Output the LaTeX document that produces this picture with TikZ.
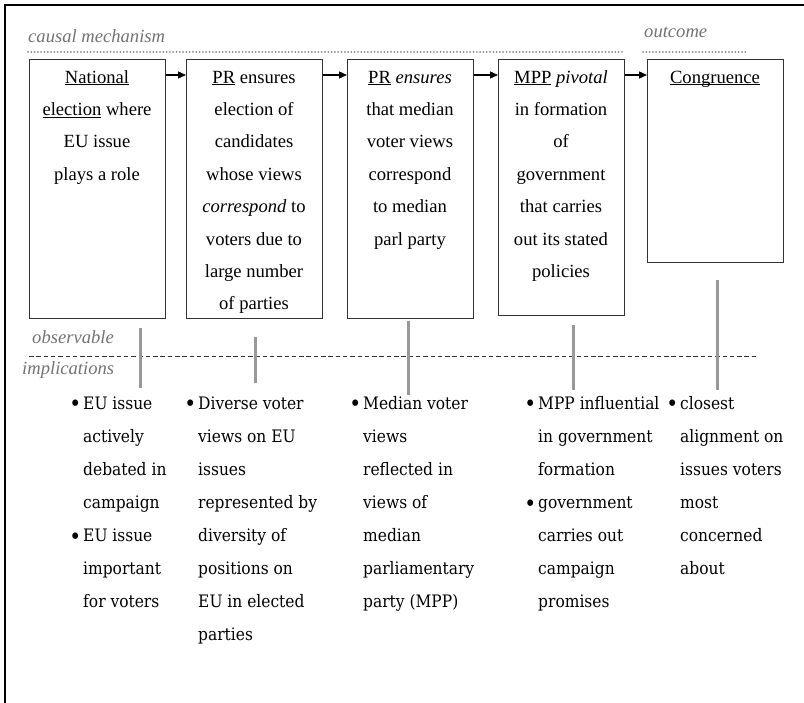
\documentclass[tikz,border=0pt]{standalone}
\usepackage{fontspec}
\setmainfont{Liberation Serif}
\newfontfamily\bfont{DejaVu Serif Condensed}
\usetikzlibrary{arrows.meta}
\definecolor{lbl}{HTML}{737373}
\definecolor{vline}{HTML}{999999}
\definecolor{dotc}{HTML}{888888}
\definecolor{boxc}{HTML}{333333}
\newcommand\myul[1]{\underline{\smash{#1}}}
\newcommand\bul{\llap{\raisebox{-2.6pt}{\scalebox{1.3}{\textbullet}}\hspace{2pt}}}
\begin{document}
\begin{tikzpicture}[x=1pt,y=-1pt,
  boxn/.style={draw=boxc,line width=1.1pt,inner sep=0pt,anchor=north west},
  tx/.style={anchor=north,inner sep=0pt,align=center,font=\fontsize{18.6}{32.4}\selectfont},
  bx/.style={anchor=north west,inner sep=0pt,align=left,font=\bfont\fontsize{17.2}{33.1}\selectfont},
  lblt/.style={text=lbl,font=\itshape\fontsize{18.6}{22}\selectfont,inner sep=0pt,anchor=base west},
  dotl/.style={draw=dotc,line width=2pt,line cap=round,dash pattern=on 0pt off 3.3pt},
  dashl/.style={draw=boxc,line width=0.9pt,dash pattern=on 4.5pt off 2.8pt},
  vl/.style={draw=vline,line width=3pt},
  arr/.style={-{Triangle[length=8pt,width=7pt]},line width=1.3pt,black}]
\useasboundingbox (0,0) rectangle (804,703);
% frame
\draw[line width=2.4pt] (4.7,703) -- (4.7,5.3) -- (804,5.3);
% labels
\node[lblt] (lcm) at (28,43) {causal mechanism};
\node[lblt] (lout) at (644,38) {outcome};
\node[lblt] (lobs) at (32,344) {observable};
\node[lblt] (limp) at (22,375) {implications};
% dotted lines
\coordinate (d1a) at (28,52); \coordinate (d1b) at (623,52);
\coordinate (d2a) at (643,52); \coordinate (d2b) at (748,52);
\draw[dotl] (d1a) -- (d1b);
\draw[dotl] (d2a) -- (d2b);
% boxes
\node[boxn,minimum width=136pt,minimum height=259pt] (b1) at (29,59) {};
\node[boxn,minimum width=136pt,minimum height=259pt] (b2) at (186,59) {};
\node[boxn,minimum width=126pt,minimum height=259pt] (b3) at (347,59) {};
\node[boxn,minimum width=126pt,minimum height=256pt] (b4) at (498,59) {};
\node[boxn,minimum width=136pt,minimum height=203pt] (b5) at (647,59) {};
% box texts
\node[tx] (t1) at (97,60.3) {\strut\myul{National}\\\myul{election} where\\EU issue\\plays a role};
\node[tx] (t2) at (254,60.3) {\strut\myul{PR} ensures\\election of\\candidates\\whose views\\\textit{correspond} to\\voters due to\\large number\\of parties};
\node[tx] (t3) at (410,60.3) {\strut\myul{PR} \textit{ensures}\\that median\\voter views\\correspond\\to median\\parl party};
\node[tx] (t4) at (561,60.3) {\strut\myul{MPP} \textit{pivotal}\\in formation\\of\\government\\that carries\\out its stated\\policies};
\node[tx] (t5) at (715,60.3) {\strut\myul{Congruence}};
% arrows
\draw[arr] ([yshift=-16pt]b1.north east) -- ([yshift=-16pt]b2.north west);
\draw[arr] ([yshift=-16pt]b2.north east) -- ([yshift=-16pt]b3.north west);
\draw[arr] ([yshift=-16pt]b3.north east) -- ([yshift=-16pt]b4.north west);
\draw[arr] ([yshift=-16pt]b4.north east) -- ([yshift=-16pt]b5.north west);
% dashed separator
\coordinate (sa) at (29,356.5); \coordinate (sb) at (758,356.5);
\draw[dashl] (sa) -- (sb);
% vertical gray lines
\coordinate (v1a) at (140,328); \coordinate (v1b) at (140,388);
\coordinate (v2a) at (255,337); \coordinate (v2b) at (255,383);
\coordinate (v3a) at (408,321); \coordinate (v3b) at (408,395);
\coordinate (v4a) at (573,325); \coordinate (v4b) at (573,390);
\coordinate (v5a) at (717,280); \coordinate (v5b) at (717,390);
\draw[vl] (v1a) -- (v1b);
\draw[vl] (v2a) -- (v2b);
\draw[vl] (v3a) -- (v3b);
\draw[vl] (v4a) -- (v4b);
\draw[vl] (v5a) -- (v5b);
% bullet texts
\node[bx] (o1) at (83,385.8) {\strut\bul EU issue\\actively\\debated in\\campaign\\\bul EU issue\\important\\for voters};
\node[bx] (o2) at (198,385.8) {\strut\bul Diverse voter\\views on EU\\issues\\represented by\\diversity of\\positions on\\EU in elected\\parties};
\node[bx] (o3) at (363,385.8) {\strut\bul Median voter\\views\\reflected in\\views of\\median\\parliamentary\\party (MPP)};
\node[bx] (o4) at (538,385.8) {\strut\bul MPP influential\\in government\\formation\\\bul government\\carries out\\campaign\\promises};
\node[bx] (o5) at (680,385.8) {\strut\bul closest\\alignment on\\issues voters\\most\\concerned\\about};
\end{tikzpicture}
\end{document}
